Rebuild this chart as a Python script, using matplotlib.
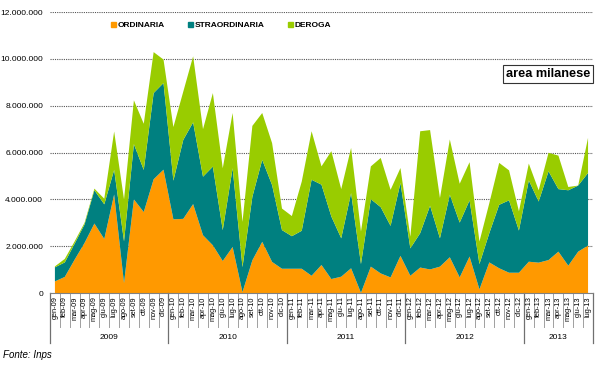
import numpy as np
import matplotlib.pyplot as plt
from matplotlib.patches import Patch
from matplotlib.ticker import FuncFormatter
import matplotlib.transforms as mtransforms

plt.rcParams['font.family'] = ['Liberation Sans', 'DejaVu Sans']

# ore autorizzate, milioni, gen-09 .. lug-13
mesi = ['gen', 'feb', 'mar', 'apr', 'mag', 'giu', 'lug', 'ago', 'set', 'ott', 'nov', 'dic']
anni = ['2009', '2010', '2011', '2012', '2013']
labels = [f"{m}-{a[2:]}" for a in anni for m in mesi][:55]

ordinaria = [0.50, 0.69, 1.43, 2.14, 2.97, 2.31, 4.21, 0.43, 4.00, 3.46, 4.86, 5.27,
             3.15, 3.17, 3.80, 2.47, 2.04, 1.37, 1.97, 0.04, 1.40, 2.19, 1.33, 1.04,
             1.04, 1.04, 0.74, 1.20, 0.60, 0.70, 1.06, 0.01, 1.13, 0.84, 0.67, 1.59,
             0.74, 1.09, 1.01, 1.13, 1.53, 0.67, 1.56, 0.16, 1.31, 1.06, 0.87, 0.87,
             1.34, 1.30, 1.41, 1.77, 1.17, 1.77, 2.03]
straordinaria = [0.60, 0.62, 0.68, 0.79, 1.42, 1.48, 1.05, 1.78, 2.36, 1.80, 3.68, 3.70,
                 1.65, 3.37, 3.49, 2.50, 3.36, 1.32, 3.36, 1.07, 2.71, 3.50, 3.28, 1.65,
                 1.39, 1.62, 4.10, 3.43, 2.67, 1.64, 3.21, 1.23, 2.88, 2.83, 2.20, 3.11,
                 1.17, 1.47, 2.72, 1.21, 2.67, 2.34, 2.40, 1.08, 1.25, 2.71, 3.09, 1.80,
                 3.47, 2.61, 3.79, 2.67, 3.22, 2.82, 3.10]
deroga = [0.04, 0.15, 0.10, 0.07, 0.07, 0.24, 1.64, 1.79, 1.87, 1.97, 1.75, 1.00,
          2.29, 2.06, 2.82, 2.03, 3.14, 2.64, 2.36, 1.93, 3.03, 2.00, 1.79, 0.92,
          0.86, 2.10, 2.07, 0.78, 2.79, 2.10, 1.93, 1.39, 1.40, 2.10, 1.54, 0.64,
          0.50, 4.35, 3.23, 1.72, 2.36, 1.66, 1.63, 0.96, 1.28, 1.79, 1.28, 0.82,
          0.72, 0.48, 0.79, 1.43, 0.14, 0.00, 1.50]

c_ord, c_str, c_der = '#FF9900', '#008080', '#99CC00'

fig = plt.figure(figsize=(6, 3.65), dpi=100)
ax = fig.add_axes([0.0833, 0.197, 0.905, 0.770])

x = np.arange(len(labels))
ax.stackplot(x, np.array(ordinaria) * 1e6, np.array(straordinaria) * 1e6,
             np.array(deroga) * 1e6, colors=[c_ord, c_str, c_der], linewidth=0)

ax.set_xlim(-0.5, len(labels) - 0.5)
ax.set_ylim(0, 12e6)
ax.set_yticks(np.arange(0, 12.1e6, 2e6))
ax.yaxis.set_major_formatter(FuncFormatter(lambda v, p: f"{int(v):,}".replace(',', '.')))
ax.tick_params(axis='y', length=0, pad=5, labelsize=6)
ax.set_xticks([])
for s in ['top', 'right', 'left']:
    ax.spines[s].set_visible(False)
ax.spines['bottom'].set_color('#808080')
ax.yaxis.grid(True, linestyle=(0, (1, 1)), color='#555555', linewidth=0.8)
ax.set_axisbelow(True)

# etichette mesi e separatori
trans = mtransforms.blended_transform_factory(ax.transData, ax.transAxes)
for i, lab in enumerate(labels):
    ax.text(i, -0.012, lab, rotation=90, ha='center', va='top', fontsize=5.3,
            transform=trans)
for i in range(len(labels) + 1):
    if i % 12 == 0 or i == len(labels):
        ax.plot([i - 0.5, i - 0.5], [0, -0.178], color='#707070', lw=0.9,
                transform=trans, clip_on=False)
    else:
        ax.plot([i - 0.5, i - 0.5], [0, -0.121], color='#a0a0a0', lw=0.7,
                transform=trans, clip_on=False)
for k, a in enumerate(anni):
    start = k * 12
    end = min(start + 12, len(labels))
    ax.text((start + end - 1) / 2, -0.157, a, ha='center', va='center',
            fontsize=6, transform=trans)

handles = [Patch(color=c_ord, label='ORDINARIA'),
           Patch(color=c_str, label='STRAORDINARIA'),
           Patch(color=c_der, label='DEROGA')]
ax.legend(handles=handles, loc='center', bbox_to_anchor=(0.315, 0.952), ncol=3,
          frameon=False, handlelength=0.6, handleheight=0.6, handletextpad=0.2,
          columnspacing=2.8, prop={'weight': 'bold', 'size': 6})

ax.text(0.995, 0.78, 'area milanese', transform=ax.transAxes, ha='right', va='center',
        fontsize=9.2, fontweight='bold',
        bbox=dict(boxstyle='square,pad=0.22', facecolor='white', edgecolor='#333333', lw=0.8))

fig.text(0.005, 0.027, 'Fonte: Inps', fontsize=7, style='italic', ha='left', va='center')

fig.savefig('out.png', dpi=100)
